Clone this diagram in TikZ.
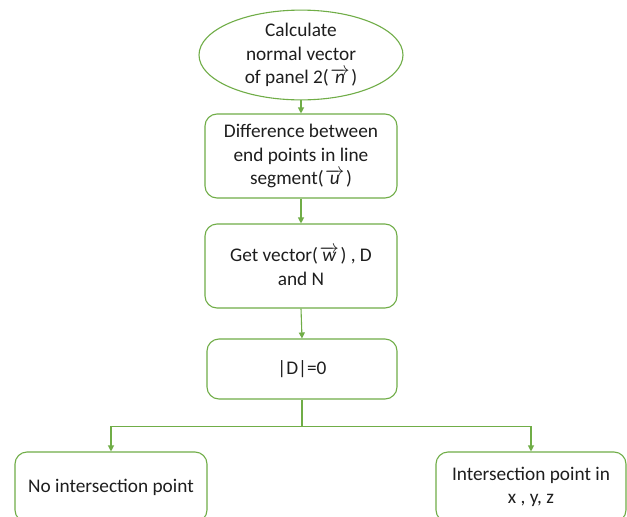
\RequirePackage{fix-cm}
\documentclass[tikz,border=0pt]{standalone}
\usepackage{fontspec}
\setmainfont{Carlito}
\usetikzlibrary{shapes.geometric,arrows.meta}
\definecolor{flowgreen}{HTML}{70AD47}
\definecolor{txt}{HTML}{1E1E1E}
\newcommand{\vecsym}[1]{$\mkern1.5mu\overrightarrow{\mathit{#1}}\mkern1.5mu$}
\begin{document}
\begin{tikzpicture}[x=1pt,y=-1pt,
  base/.style={draw=flowgreen, line width=1.1pt, text=txt, align=center,
    font=\fontsize{19.3}{23.5}\selectfont, inner sep=0pt},
  ellbox/.style={base, ellipse, minimum width=204pt, minimum height=84pt},
  rbox/.style={base, rectangle, rounded corners=12pt},
  conn/.style={draw=flowgreen, line width=1.1pt},
  arr/.style={conn, -{Triangle[length=6pt,width=6pt]}}]
\useasboundingbox (0,0) rectangle (627,517);
\clip (0,0) rectangle (627,517);
\fill[white] (0,0) rectangle (627,517);
\node[ellbox] (e) at (301,55) {Calculate\\normal vector\\of panel 2(\vecsym{n})};
\node[rbox, minimum width=192pt, minimum height=84pt] (b1) at (301,156)
  {Difference between\\end points in line\\segment(\vecsym{u})};
\node[rbox, minimum width=192pt, minimum height=84pt] (b2) at (301,266)
  {Get vector(\vecsym{w}) , D\\and N};
\node[rbox, minimum width=190pt, minimum height=60pt] (b3) at (302,369) {|D|=0};
\node[rbox, minimum width=192pt, minimum height=70pt] (l) at (111,487) {No intersection point};
\node[rbox, minimum width=190pt, minimum height=70pt] (r) at (531,487) {Intersection point in\\x , y, z};
\draw[arr] (e.south) -- (b1.north);
\draw[arr] (b1.south) -- (b2.north);
\draw[arr] (b2.south) -- (b3.north);
\draw[conn] (b3.south) -- ++(0,27) coordinate (j);
\draw[arr] (j) -| (l.north);
\draw[arr] (j) -| (r.north);
\end{tikzpicture}
\end{document}
